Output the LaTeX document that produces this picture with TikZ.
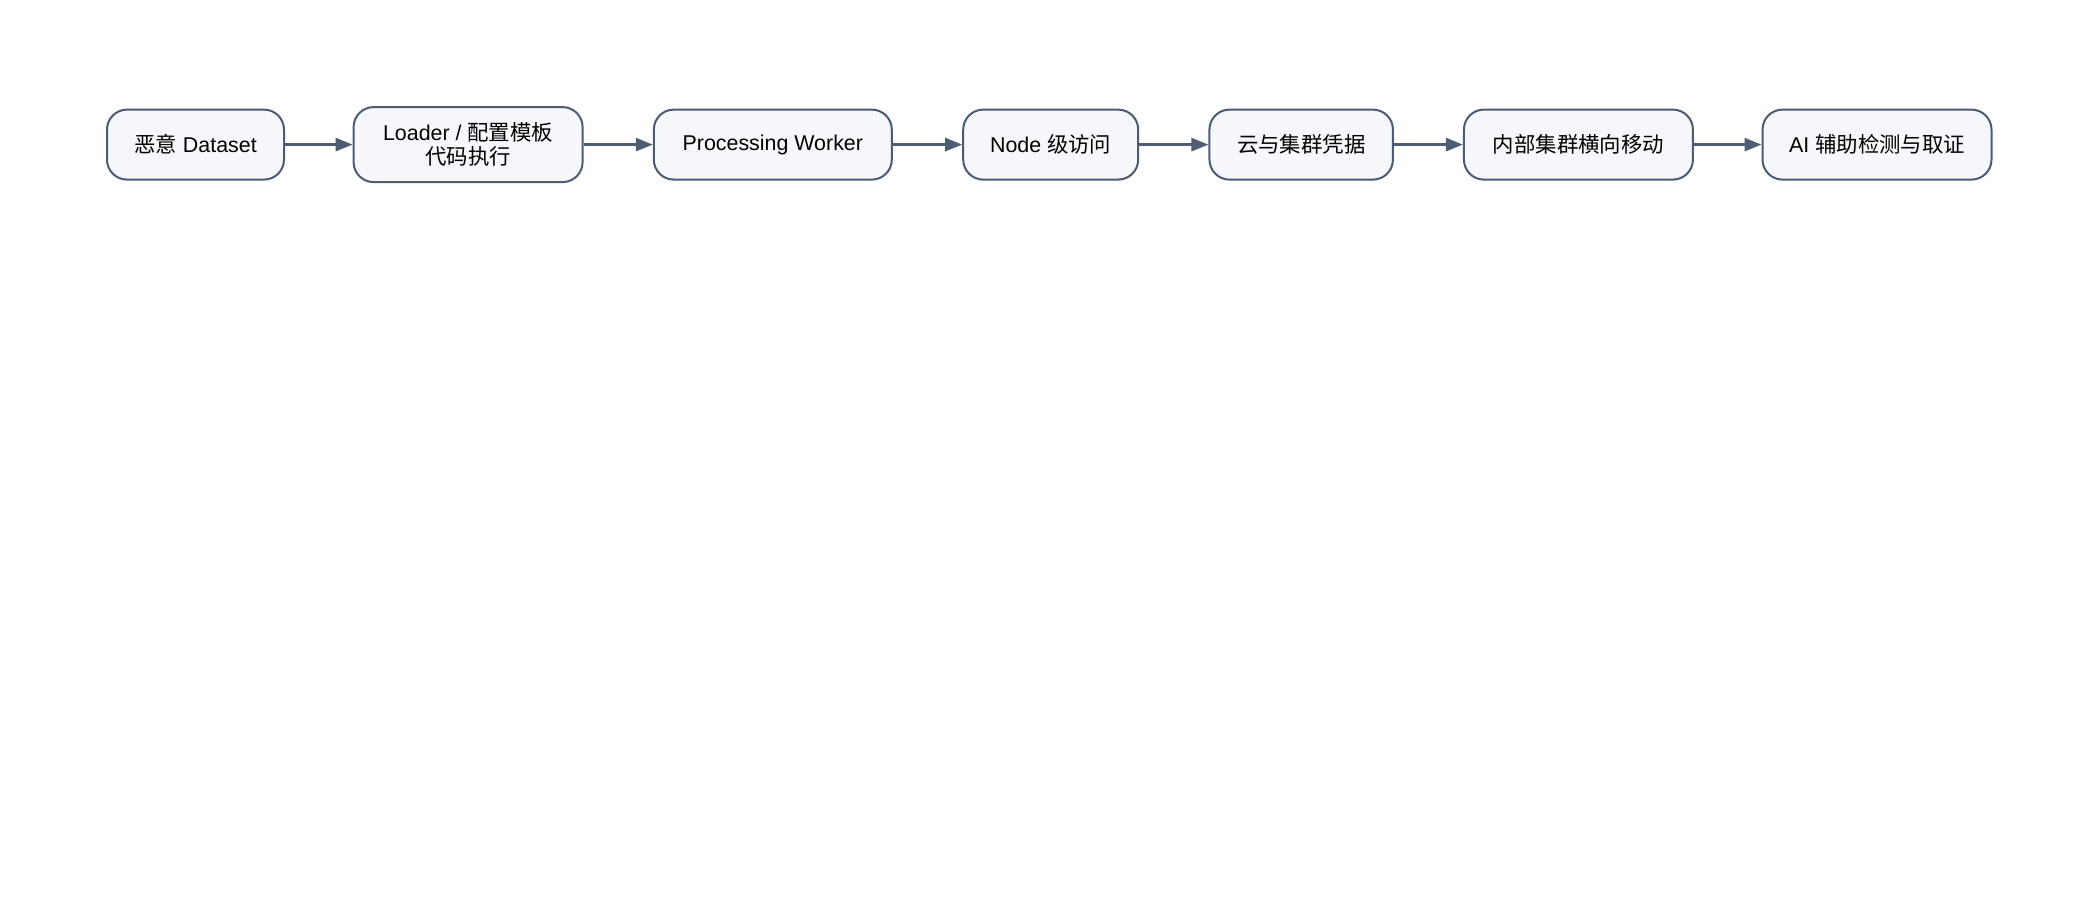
\documentclass[tikz,border=0pt]{standalone}
\usepackage{fontspec}
\setmainfont{Liberation Sans}
\newfontfamily\cjk{Noto Sans CJK SC}
\usetikzlibrary{arrows.meta}
\definecolor{boxfill}{HTML}{F5F7FB}
\definecolor{boxline}{HTML}{4B5B73}
\definecolor{arrowcol}{HTML}{4F5D73}
\tikzset{
  stagebox/.style={draw=boxline, fill=boxfill, line width=2pt, rounded corners=20pt,
    minimum height=70pt, inner sep=0pt, align=center,
    font=\fontsize{21.4}{25}\selectfont, text=black},
  flowarrow/.style={draw=arrowcol, line width=2.7pt,
    -{Triangle[length=17pt,width=13pt]}, shorten >=0pt}
}
\begin{document}
\begin{tikzpicture}[x=1pt,y=-1pt]
\useasboundingbox (0,0) rectangle (2100,900);
\node[stagebox, minimum width=177pt] (n1) at (195.5,144.6) {{\cjk 恶意} Dataset};
\node[stagebox, minimum width=229pt, minimum height=75pt] (n2) at (468.1,144.6) {Loader / {\cjk 配置模板}\\[-1pt]{\cjk 代码执行}};
\node[stagebox, minimum width=238pt] (n3) at (772.8,144.6) {Processing Worker};
\node[stagebox, minimum width=175pt] (n4) at (1050.7,144.6) {Node {\cjk 级访问}};
\node[stagebox, minimum width=183.5pt] (n5) at (1301.2,144.6) {{\cjk 云与集群凭据}};
\node[stagebox, minimum width=229pt] (n6) at (1578.4,144.6) {{\cjk 内部集群横向移动}};
\node[stagebox, minimum width=229pt] (n7) at (1877,144.6) {AI {\cjk 辅助检测与取证}};
\draw[flowarrow] (n1) -- (n2);
\draw[flowarrow] (n2) -- (n3);
\draw[flowarrow] (n3) -- (n4);
\draw[flowarrow] (n4) -- (n5);
\draw[flowarrow] (n5) -- (n6);
\draw[flowarrow] (n6) -- (n7);
\end{tikzpicture}
\end{document}
